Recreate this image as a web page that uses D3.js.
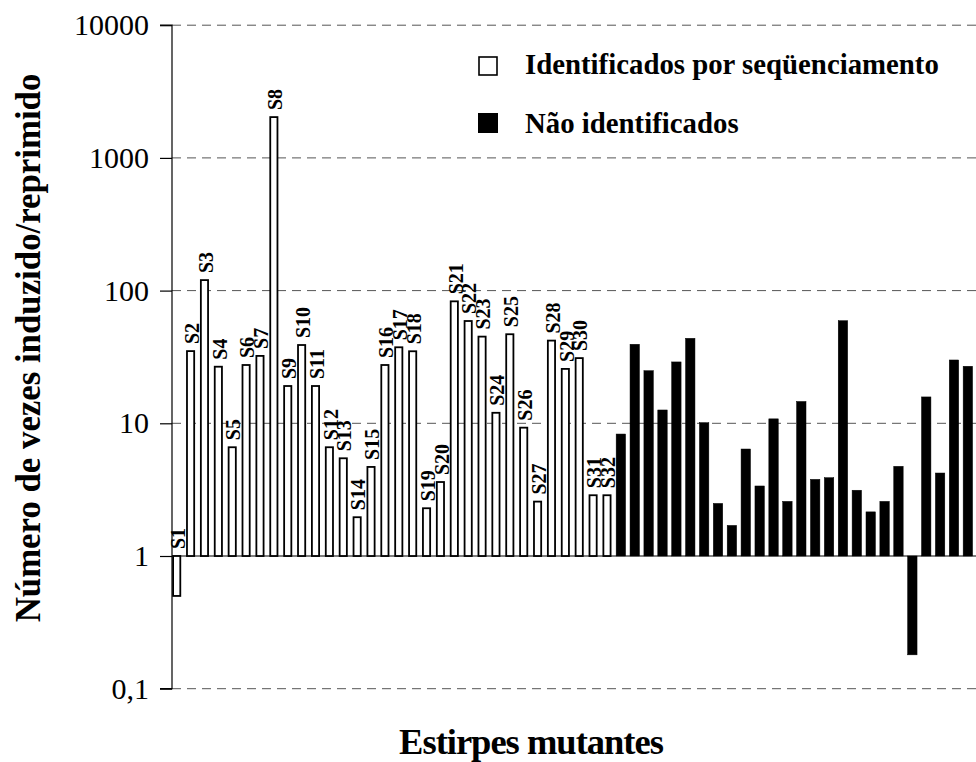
<!DOCTYPE html>
<html><head><meta charset="utf-8">
<script src="https://cdn.jsdelivr.net/npm/d3@7"></script>
<style>body{margin:0;background:#fff}svg{display:block}</style>
</head><body><svg id="c" width="976" height="762"></svg>
<script>
// identified strains (white bars)
const identifiedLabels = ["S1","S2","S3","S4","S5","S6","S7","S8","S9","S10","S11","S12","S13","S14","S15","S16","S17","S18","S19","S20","S21","S22","S23","S24","S25","S26","S27","S28","S29","S30","S31","S32"];
const identifiedValues = [0.5,35,120,26.7,6.6,27.5,32.2,2030,19.1,38.9,19.1,6.6,5.45,1.96,4.69,27.5,37.4,34.9,2.29,3.61,83,59,45,12.0,46.9,9.27,2.57,42,25.7,31,2.87,2.87];
// unidentified strains (black bars)
const unidentifiedValues = [8.3,39.4,24.9,12.6,29,43.7,10.1,2.49,1.70,6.4,3.37,10.8,2.58,14.6,3.78,3.89,59.3,3.13,2.15,2.58,4.74,0.18,15.8,4.22,30,26.9];
const yTicks = [0.1,1,10,100,1000,10000];
const yTickLabels = ["0,1","1","10","100","1000","10000"];
const legendLabels = ["Identificados por seqüenciamento","Não identificados"];
const yTitle = "Número de vezes induzido/reprimido";
const xTitle = "Estirpes mutantes";

const data = identifiedValues.map((v,i)=>({id:"i"+i,label:identifiedLabels[i],v,type:"id"}))
  .concat(unidentifiedValues.map((v,i)=>({id:"u"+i,label:null,v,type:"un"})));

const svg = d3.select("#c");
const serif = "'Liberation Serif','Times New Roman',serif";
const x = d3.scalePoint().domain(data.map(d=>d.id)).range([169.76, 974.8]).padding(0.5);
const y = d3.scaleLog().domain([0.1,10000]).range([688.7,25.2]);
const axisX = 172;

// gridlines
svg.append("g").selectAll("line").data(yTicks.filter(t=>t!==1)).join("line")
  .attr("x1",axisX).attr("x2",976).attr("y1",d=>y(d)).attr("y2",d=>y(d))
  .attr("stroke","#555").attr("stroke-width",1).attr("stroke-dasharray","9,6");

// y axis
const yAxis = d3.axisLeft(y).tickValues(yTicks).tickFormat((d,i)=>yTickLabels[i]).tickSize(12).tickPadding(11);
const ga = svg.append("g").attr("transform",`translate(${axisX},0)`).call(yAxis);
ga.select(".domain").attr("stroke","#000").attr("stroke-width",1.2).attr("d",`M-12,${y(10000)}H0V${y(0.1)}H-12`);
ga.selectAll(".tick line").attr("stroke","#000").attr("stroke-width",1.2);
ga.selectAll(".tick text").attr("font-family",serif).attr("font-size",30).attr("fill","#000");

// baseline at 1
svg.append("line").attr("x1",axisX).attr("x2",976).attr("y1",y(1)).attr("y2",y(1)).attr("stroke","#000").attr("stroke-width",1.2);

// bars
svg.append("g").selectAll("rect").data(data).join("rect")
  .attr("x",d=>x(d.id)-(d.type==="id"?3.6:4.7))
  .attr("width",d=>d.type==="id"?7.2:9.4)
  .attr("y",d=>y(Math.max(d.v,1)))
  .attr("height",d=>Math.abs(y(d.v)-y(1)))
  .attr("fill",d=>d.type==="id"?"#fff":"#000")
  .attr("stroke","#000").attr("stroke-width",d=>d.type==="id"?1.8:0.5);

// bar labels
svg.append("g").selectAll("text").data(data.filter(d=>d.label)).join("text")
  .attr("transform",d=>`translate(${x(d.id)+1},${y(Math.max(d.v,1))-7}) rotate(-90)`)
  .attr("dy","0.36em").attr("font-family",serif).attr("font-weight","bold").attr("font-size",20)
  .text(d=>d.label);

// legend
const lg = svg.append("g");
lg.append("rect").attr("x",479).attr("y",57).attr("width",18).attr("height",18).attr("fill","#fff").attr("stroke","#000").attr("stroke-width",1.6);
lg.append("rect").attr("x",478).attr("y",113).attr("width",20).attr("height",20).attr("fill","#000");
lg.selectAll("text").data(legendLabels).join("text")
  .attr("x",525).attr("y",(d,i)=>74+i*58.7)
  .attr("font-family",serif).attr("font-weight","bold").attr("font-size",28.8).text(d=>d);

// titles
svg.append("text").attr("transform","translate(40,348) rotate(-90)").attr("text-anchor","middle")
  .attr("font-family",serif).attr("font-weight","bold").attr("font-size",34.8).text(yTitle);
svg.append("text").attr("x",531).attr("y",754).attr("text-anchor","middle")
  .attr("font-family",serif).attr("font-weight","bold").attr("font-size",36.5).attr("letter-spacing",-1).text(xTitle);
</script></body></html>
